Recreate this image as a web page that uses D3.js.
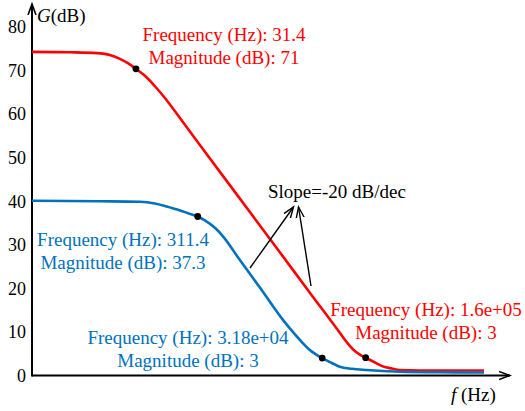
<!DOCTYPE html>
<html>
<head>
<meta charset="utf-8">
<script src="https://cdn.jsdelivr.net/npm/d3@7"></script>
<style>
  body { margin: 0; background: #fff; }
</style>
</head>
<body>
<div id="chart"></div>
<script>
// values (frequency in Hz, gain in dB)
const redFreq = [0.66, 2.71, 7.38, 11.9, 17.3, 23.3, 31.4, 43.9, 63.6, 92.2, 161, 338, 1494, 6590, 20100, 61200, 73800, 88800, 107000, 129000, 160000, 225000, 303000, 423000, 569000, 1190000, 13000000];
const redDb = [74.3, 74.2, 74.0, 73.6, 72.7, 71.7, 70.4, 68.8, 66.4, 63.7, 59.1, 52.9, 40.6, 28.3, 19.0, 9.8, 8.2, 6.8, 5.6, 4.8, 4.1, 3.0, 2.1, 1.6, 1.26, 1.15, 1.15];
const blueFreq = [0.66, 8.24, 36.4, 63.6, 98.2, 161, 233, 311.4, 407, 590, 803, 1494, 3140, 7460, 9570, 13900, 20100, 31800, 45500, 61200, 95700, 165000, 569000, 2450000, 13000000];
const blueDb = [40.1, 40.0, 39.9, 39.5, 38.8, 37.9, 37.1, 36.5, 35.6, 33.9, 31.9, 26.5, 20.2, 12.7, 10.8, 8.15, 5.85, 4.0, 2.87, 2.0, 1.54, 1.26, 0.87, 0.73, 0.69];
const dotFreq = [31.4, 160000, 311.4, 31800];
const dotDb = [70.4, 4.1, 36.5, 4.0];
const yTicks = [0, 10, 20, 30, 40, 50, 60, 70, 80];
const redLabels = [
  ["Frequency (Hz): 31.4", "Magnitude (dB): 71"],
  ["Frequency (Hz): 1.6e+05", "Magnitude (dB): 3"]
];
const blueLabels = [
  ["Frequency (Hz): 311.4", "Magnitude (dB): 37.3"],
  ["Frequency (Hz): 3.18e+04", "Magnitude (dB): 3"]
];

const width = 525, height = 411;
const red = "#ff0000", blue = "#0072bd";
const serif = '"Liberation Serif", "Times New Roman", serif';

let svg = d3.select("#chart").append("svg").attr("width", width).attr("height", height)
  .attr("font-family", serif);

let x = d3.scaleLog().domain([0.66, 1.3e7]).range([32, 484]);
let y = d3.scaleLinear().domain([0, 80]).range([375.5, 27]);

let defs = svg.append("defs");
let mkArrow = (id, len, half, sw) => {
  defs.append("marker").attr("id", id)
    .attr("markerUnits", "userSpaceOnUse")
    .attr("viewBox", `0 ${-half - 2} ${len + 2} ${2 * half + 4}`)
    .attr("refX", len).attr("refY", 0)
    .attr("markerWidth", len + 2).attr("markerHeight", 2 * half + 4)
    .attr("orient", "auto")
    .append("path").attr("d", `M0,${-half}L${len},0L0,${half}`)
    .attr("fill", "none").attr("stroke", "#000").attr("stroke-width", sw);
};
mkArrow("axisArrow", 11, 4, 1.6);
mkArrow("slopeArrow", 11, 4, 1.4);

// axes
svg.append("line").attr("x1", x.range()[0]).attr("y1", y(0)).attr("x2", 510).attr("y2", y(0))
  .attr("stroke", "#000").attr("stroke-width", 2).attr("marker-end", "url(#axisArrow)");
svg.append("line").attr("x1", x.range()[0]).attr("y1", y(0) + 1).attr("x2", x.range()[0]).attr("y2", 4)
  .attr("stroke", "#000").attr("stroke-width", 2).attr("marker-end", "url(#axisArrow)");

let yAxis = d3.axisLeft(y).tickValues(yTicks).tickSize(0).tickPadding(6);
let gy = svg.append("g").attr("transform", `translate(${x.range()[0]},0)`).call(yAxis);
gy.select(".domain").remove();
gy.attr("font-family", null).attr("font-size", null);
gy.selectAll("text").attr("fill", "#000").attr("font-size", 18)
  .style("font-family", serif);

let gLab = svg.append("text").attr("x", 37).attr("y", 22).attr("font-size", 19).attr("fill", "#000")
  .style("font-family", serif);
gLab.append("tspan").attr("font-style", "italic").text("G");
gLab.append("tspan").text("(dB)");
let fLab = svg.append("text").attr("x", 451).attr("y", 401).attr("font-size", 19).attr("fill", "#000")
  .style("font-family", serif);
fLab.append("tspan").attr("font-style", "italic").text("f");
fLab.append("tspan").text(" (Hz)");

// curves
let line = d3.line().x(d => x(d[0])).y(d => y(d[1])).curve(d3.curveMonotoneX);
svg.append("path").datum(d3.zip(redFreq, redDb)).attr("d", line)
  .attr("fill", "none").attr("stroke", red).attr("stroke-width", 2.6);
svg.append("path").datum(d3.zip(blueFreq, blueDb)).attr("d", line)
  .attr("fill", "none").attr("stroke", blue).attr("stroke-width", 2.6);

svg.selectAll("circle.dot").data(d3.zip(dotFreq, dotDb)).enter().append("circle")
  .attr("class", "dot").attr("cx", d => x(d[0])).attr("cy", d => y(d[1])).attr("r", 3.4).attr("fill", "#000");

// data tip labels
let addLabel = (lines, cx, cy, color) => {
  let t = svg.append("text").attr("text-anchor", "middle").attr("font-size", 19).attr("fill", color)
    .style("font-family", serif);
  lines.forEach((s, i) => {
    t.append("tspan").attr("x", cx).attr("y", cy + i * 23).text(s);
  });
};
addLabel(redLabels[0], 224, 41, red);
addLabel(redLabels[1], 426, 316, red);
addLabel(blueLabels[0], 123, 246, blue);
addLabel(blueLabels[1], 188, 344, blue);

// slope annotation
svg.append("text").attr("x", 268).attr("y", 198).attr("font-size", 19).attr("fill", "#000")
  .style("font-family", serif).text("Slope=-20 dB/dec");
svg.append("line").attr("x1", 250).attr("y1", 268).attr("x2", 293.5).attr("y2", 207)
  .attr("stroke", "#000").attr("stroke-width", 1.4).attr("marker-end", "url(#slopeArrow)");
svg.append("line").attr("x1", 311).attr("y1", 286).attr("x2", 298.5).attr("y2", 207)
  .attr("stroke", "#000").attr("stroke-width", 1.4).attr("marker-end", "url(#slopeArrow)");
</script>
</body>
</html>
